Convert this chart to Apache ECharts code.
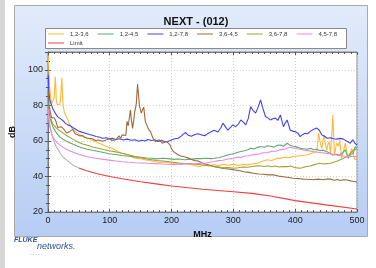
<!DOCTYPE html>
<html>
<head>
<meta charset="utf-8">
<script src="https://cdn.jsdelivr.net/npm/echarts@6/dist/echarts.min.js"></script>
<style>
  html, body { margin: 0; padding: 0; background: #fff; }
  #chart { width: 376px; height: 268px; }
</style>
</head>
<body>
<div id="chart"></div>
<script>
// pairs are [MHz, dB]
var pair_1236 = [[0.5,108],[1,104],[2,97],[3,90],[4,86],[5,83],[6,81],[7,80.5],[8,81],[9,82],[10,84],[11,90],[12,96],[12.8,90],[13.6,83],[15,80.5],[16,80],[17,79.5],[18,80],[19,80.5],[20,82],[21,87],[22,93],[22.6,95.5],[23.4,88],[24.5,80],[26,77],[28,75],[30,73.5],[32,72],[35,69.5],[37.5,68.5],[40,66.5],[44,65.5],[48,64.5],[52,63.5],[56,62.5],[60,61.8],[64,61.6],[68,61],[72,60.2],[77,59.6],[82,58.8],[88,58],[93.5,57],[99,56.3],[104,55.8],[110,54.8],[115,53.8],[120,53],[125.6,52.5],[131,52],[136,51],[141.5,50.3],[147,50],[152,49.8],[157,49.4],[163,49],[168,48.8],[173.5,48.4],[180,48],[187,48.2],[194.7,47.8],[202,47.5],[210,47.6],[216,46.9],[221.5,47.4],[230,46.8],[238,46.2],[245,45.5],[252,46.5],[260,46.1],[268,46.6],[276,46.2],[284,46.8],[292,46.3],[300,46.8],[308,46.2],[315,46.7],[322.6,46.5],[330,47],[339,47.4],[347,48.5],[355,49.4],[362,49],[369,50],[376,50.3],[383,50.8],[390,50.6],[397,51.2],[404,51.5],[411,51.8],[419,52.1],[427,53],[435,54],[438,64.3],[441,58],[443,55.8],[445,60],[447,63.4],[449,58],[451,54.9],[453,58],[455,59.6],[457,53],[459,62],[461,74.6],[462.5,60],[463.5,52],[467,58.7],[470,57],[472,60.6],[475,50.3],[478,54],[481,58.7],[484,53],[486,50.3],[489,53],[491.5,55.8],[494,52],[497,49.4],[500,50.5]];

var pair_1245 = [[0.5,84],[1,80],[2,76],[3,74],[5,71],[8,68],[12,65.5],[16,63.5],[20,62],[25,60.8],[30,59.8],[35,59],[40,58.2],[48,57],[56,56],[64,55.3],[72,54.7],[80,54.2],[90,53.5],[99,52.8],[110,52.3],[120,51.8],[130,51.4],[141,51],[150,50.8],[160,50.4],[168,50.2],[176,49.9],[185,50.2],[194,50],[203,49.6],[211,49.8],[221,49.4],[230,49.7],[240,50],[248,50],[256,50.2],[264,50],[269,50.2],[276,50.5],[283,51.2],[291,52.1],[298,52.6],[305,53.3],[312,54],[318,54.5],[324,55.2],[328,55.8],[334,55.4],[340,56.5],[344,56.8],[350,56.4],[355,57.2],[360,57],[366,56.5],[371,57.5],[376,57.7],[381,57],[387,58.7],[392,57.5],[397,57],[403,56.5],[408,55.8],[413,55.6],[419,55.3],[425,55.8],[430,55],[435,55.3],[440,54.5],[445,54.8],[451,54],[456,53],[461,52.1],[466,52.5],[471,52],[476,53],[481,55],[484,52],[486,50.3],[490,52.5],[494,53],[497,56.8],[500,56]];

var pair_1278 = [[0.5,97],[1,92],[2,86],[3,83],[5,81],[8,78],[12,75.5],[16,73.5],[20,72.5],[24,71.5],[28,70],[32,69],[36,68.5],[40,67.5],[45,66.5],[50,65.5],[56,64.8],[62,64.2],[67,63.6],[72,63.2],[78,62.5],[84,62],[88,61.5],[94,61.8],[100,61.2],[104,61.4],[110,60.8],[116,61.2],[122,60.5],[128,61],[135,60.4],[141,60.6],[147,59.8],[152,60.4],[157,59.9],[162,60.8],[168,60.2],[173,60.6],[178,59.7],[184,60.3],[189,59.5],[194,59.6],[200,60.5],[205,61.2],[211,61.5],[216,62.8],[222,64.7],[227,63.2],[232,62.6],[238,63.6],[243,64],[248,63.4],[254,62.9],[259,64.2],[264,65.2],[269,66],[275,65],[280,67.5],[283,70],[287,68],[291,66],[295,67.5],[299,69],[304,68],[308,69.5],[312,71.8],[316,70.5],[320,69],[324,72.5],[328,79.3],[332,77],[336,75.6],[340,79],[344,83],[348,78],[352,73.7],[356,72.8],[360,71.8],[364,72.5],[368,72.8],[372,71.5],[376,74.6],[381,68],[384,70],[387,71.8],[392,66],[396,65.5],[400,65.2],[404,64.5],[408,62.4],[412,63.5],[416,64.3],[420,64],[425,65.5],[430,66.5],[435,67.2],[439,66],[443,63.4],[448,62.5],[452,61.5],[457,61.8],[462,61.2],[467,61],[473,61.4],[478,61],[484,59.8],[489,58.7],[493,60.6],[497,58.5],[500,57.7]];

var pair_3645 = [[0.5,88],[1,85],[2,80],[3,78],[4,76],[6,73],[8,72],[10,73],[13,71],[16,67.5],[19,68],[21.6,68],[24,69],[27,66],[30,64.5],[35,65.2],[40,66.5],[44,64],[48,63.4],[52,62.8],[56,63],[60,62],[64,61.5],[67,60.8],[72,61.2],[77,60.2],[82,60.5],[88,59.8],[93,60.4],[99,61.2],[104,60.2],[110,60.6],[113,61.5],[115,62.8],[118,61.5],[120,63.4],[123,62.5],[126,63],[128,70.9],[130,68.5],[131,68],[133.5,77.5],[135,72],[137,67],[139,72],[140,75.6],[142,79],[143,81],[145,92],[146.5,86],[148,80],[150,77],[151,75.6],[153,77.5],[155,79],[157.5,71],[159,70],[161,68],[163,66.5],[166,65.2],[170,61.5],[174,59.6],[177,60.5],[180,60.6],[183,59.5],[185,58.7],[188,59.8],[192,59.6],[195,58.5],[197.5,57.7],[200,55.5],[203,54],[207,53],[211,52.1],[215,51.5],[219,51.2],[223,50.8],[227,50.3],[232,49.6],[238,48.9],[243,48.7],[248,47.8],[255,47],[262,46.3],[269,45.5],[276,45],[284,44.5],[292,44.2],[301,43.7],[309,43.3],[317,42.6],[325,42.3],[333,41.8],[341,41.4],[349,41.2],[357,40.9],[365,40.9],[373,40.2],[381,39.8],[389,39.4],[397,39],[405,38.8],[413,38.5],[421,38.4],[429,38.1],[437,38.5],[445,38.1],[451,38.6],[457,38.5],[463,37.9],[468,38.3],[473,37.7],[478,38.1],[484,38],[490,37.5],[495,37.2],[500,36.9]];

var pair_3678 = [[0.5,80],[1,78],[2,76],[3,75],[5,72],[8,69.5],[13,67.5],[18,66],[24,64.5],[30,63],[35,62],[40,61],[48,59.5],[56,58.3],[64,57.5],[72,56.6],[80,56],[90,55.2],[99,54.5],[110,53.8],[120,53],[130,52.2],[141,51.2],[150,50.5],[160,49.8],[168,49.4],[176,49],[185,48.7],[194,48.4],[203,48],[211,47.6],[221,47.2],[230,47.1],[240,46.9],[248,46.6],[256,46.2],[264,45.9],[272,45.5],[280,45.2],[288,45],[295,44.8],[301,44.6],[308,44.9],[315,45.3],[323,45.2],[330,45.6],[338,46],[344,45.9],[350,45.6],[356,46],[362,45.5],[368,45.9],[374,45.3],[380,45.6],[387,45.5],[393,45.9],[398,45.2],[403,44.8],[408,44.6],[413,45],[418,45.6],[424,45.9],[430,46.5],[435,47],[440,47.4],[446,47],[451,47.2],[457,47.4],[462,48],[467,48.6],[473,49.4],[478,50.2],[484,51.2],[488,52.5],[491.5,54],[495,55],[497,55.8],[500,55.5]];

var pair_4578 = [[0.5,78],[1,74],[2,70],[3,68],[5,65],[8,62],[11,60.5],[15,59],[20,57.5],[24,56.5],[30,55.3],[35,54.5],[40,53.7],[48,52.6],[56,51.8],[64,51.1],[72,50.5],[80,50.1],[90,49.6],[99,49.2],[110,48.7],[120,48.3],[130,48],[141,47.7],[150,47.6],[160,47.4],[168,47.3],[176,47.2],[185,47],[194,46.9],[203,46.8],[211,46.9],[221,47],[230,47.1],[240,47.2],[248,47.4],[256,47.6],[262,48],[269,48.4],[276,48.9],[283,49.1],[291,49.8],[298,50],[305,50.7],[312,50.7],[318,51.5],[325,51.6],[333,52.3],[340,52.4],[347,53.3],[355,53.3],[362,54.2],[369,54.2],[376,55.1],[381,55.2],[387,56],[392,56.4],[397,56],[403,55.6],[408,55.3],[414,54.9],[420,54.5],[429,54],[436,53.6],[444,53.3],[451,53],[459,52.6],[467,52.1],[473,51.7],[479,51.5],[484,51.2],[490,51.3],[497,51.2],[500,51]];

var pair_limit = [[1,76],[2,72],[4,67.5],[5,66],[8,61.5],[13,57],[20,53],[24,51.2],[31,49],[40,46.5],[50,44.8],[62.5,43.2],[80,41.5],[100,40],[125,38.4],[150,37],[175,35.8],[200,34.6],[250,32.8],[300,31.4],[330,30.5],[360,29],[400,26.4],[450,24],[500,21.7]];
var limitStart = 50; // limit drawn grey below this frequency

var pairNames = ['1,2-3,6', '1,2-4,5', '1,2-7,8', '3,6-4,5', '3,6-7,8', '4,5-7,8'];
var pairData = [pair_1236, pair_1245, pair_1278, pair_3645, pair_3678, pair_4578];
var pairColors = ['#ffb838', '#5fa874', '#4343ee', '#9c6a3c', '#a0a036', '#e58be0'];
var limitColor = '#f23c3c';

var chart = echarts.init(document.getElementById('chart'), null, {renderer: 'canvas'});

var series = [];
for (var i = 0; i < pairNames.length; i++) {
	series.push({
		name: pairNames[i],
		type: 'line',
		data: pairData[i],
		symbol: 'none',
		animation: false,
		itemStyle: { color: pairColors[i] },
		lineStyle: { width: 1.1, color: pairColors[i] },
		z: 3
	});
}
// limit: grey at low frequencies, red above
series.push({
	name: 'Limit grey',
	type: 'line',
	data: pair_limit.filter(function (p) { return p[0] <= limitStart; }),
	symbol: 'none',
	animation: false,
	itemStyle: { color: '#b4b4b4' },
	lineStyle: { width: 1.1, color: '#b4b4b4' },
	z: 2
});
series.push({
	name: 'Limit',
	type: 'line',
	data: pair_limit.filter(function (p) { return p[0] >= limitStart; }),
	symbol: 'none',
	animation: false,
	itemStyle: { color: limitColor },
	lineStyle: { width: 1.1, color: limitColor },
	z: 4
});

var font = 'Liberation Sans, Arial, sans-serif';
var tickCol = '#555';

var legendText = { fontSize: 6, color: '#333', fontFamily: font, padding: [0, 0, 0, 1] };

var option = {
	textStyle: { fontFamily: font },
	graphic: [
		{ type: 'rect', shape: { x: 0, y: 0, width: 5, height: 268 }, style: { fill: '#d6d6d6' }, z: -10 },
		{
			type: 'rect', shape: { x: 14.5, y: 5.5, width: 353, height: 231 }, z: -9,
			style: {
				fill: { type: 'linear', x: 0, y: 0, x2: 0, y2: 1, colorStops: [
					{ offset: 0, color: '#e2ebfa' }, { offset: 1, color: '#b6cdf5' }] },
				stroke: '#a9a9a9', lineWidth: 1
			}
		},
		{ type: 'rect', shape: { x: 45.5, y: 28.5, width: 301, height: 20 }, z: -8,
		  style: { fill: '#fff', stroke: '#8a8a8a', lineWidth: 1 } },
		{ type: 'text', x: 14, y: 237, z: 5,
		  style: { text: 'FLUKE', font: 'italic bold 7px ' + font, fill: '#2c4f96' } },
		{ type: 'text', x: 37, y: 242, z: 5,
		  style: { text: 'networks.', font: 'italic 9px ' + font, fill: '#2c4f96' } },
		{ type: 'text', x: 30, y: 251, z: 5,
		  style: { text: '. . . . .', font: '5px ' + font, fill: '#2c4f96' } }
	],
	title: {
		text: 'NEXT - (012)',
		left: 191, top: 11, textAlign: 'center',
		textStyle: { fontSize: 11, fontWeight: 'bold', color: '#111', fontFamily: font }
	},
	legend: [
		{
			data: pairNames,
			left: 48, top: 31, orient: 'horizontal',
			icon: 'rect', itemWidth: 16, itemHeight: 1,
			itemGap: 9, padding: 0,
			textStyle: legendText
		},
		{
			data: [{ name: 'Limit', itemStyle: { color: limitColor } }],
			left: 48, top: 40, orient: 'horizontal',
			icon: 'rect', itemWidth: 16, itemHeight: 1,
			padding: 0,
			textStyle: legendText
		}
	],
	grid: {
		left: 45, top: 52, right: 19, bottom: 56,
		show: true, backgroundColor: '#fff', borderColor: '#8a8a8a', borderWidth: 1
	},
	xAxis: [
		{
			type: 'value', min: 0, max: 500, interval: 100,
			name: 'MHz', nameLocation: 'middle', nameGap: 11,
			nameTextStyle: { fontSize: 9, fontWeight: 'bold', color: '#111', fontFamily: font },
			axisLine: { show: true, lineStyle: { color: '#777' } },
			axisTick: { show: true, inside: true, length: 3, lineStyle: { color: tickCol } },
			minorTick: { show: true, splitNumber: 10, length: 2, lineStyle: { color: tickCol } },
			axisLabel: { fontSize: 9, color: '#222', margin: 4, fontFamily: font },
			splitLine: { show: true, lineStyle: { color: '#cfcfcf', type: [1, 2] } }
		},
		{
			type: 'value', min: 0, max: 500, interval: 100, position: 'top',
			axisLine: { show: true, lineStyle: { color: '#777' } },
			axisTick: { show: true, inside: true, length: 3, lineStyle: { color: tickCol } },
			minorTick: { show: true, splitNumber: 10, length: 2, lineStyle: { color: tickCol } },
			axisLabel: { show: false },
			splitLine: { show: false }
		}
	],
	yAxis: [
		{
			type: 'value', min: 20, max: 110, interval: 20,
			name: 'dB', nameLocation: 'middle', nameGap: 22, nameRotate: 90,
			nameTextStyle: { fontSize: 9, fontWeight: 'bold', color: '#111', fontFamily: font },
			axisLine: { show: true, lineStyle: { color: '#777' } },
			axisTick: { show: true, inside: true, length: 3, lineStyle: { color: tickCol } },
			minorTick: { show: true, splitNumber: 4, length: 2, lineStyle: { color: tickCol } },
			axisLabel: { fontSize: 9, color: '#222', margin: 5, showMaxLabel: false, fontFamily: font },
			splitLine: { show: true, lineStyle: { color: '#cfcfcf', type: [1, 2] } }
		},
		{
			type: 'value', min: 20, max: 110, interval: 20, position: 'right',
			axisLine: { show: true, lineStyle: { color: '#777' } },
			axisTick: { show: true, inside: true, length: 3, lineStyle: { color: tickCol } },
			minorTick: { show: true, splitNumber: 4, length: 2, lineStyle: { color: tickCol } },
			axisLabel: { show: false },
			splitLine: { show: false }
		}
	],
	series: series
};

chart.setOption(option);
</script>
</body>
</html>
